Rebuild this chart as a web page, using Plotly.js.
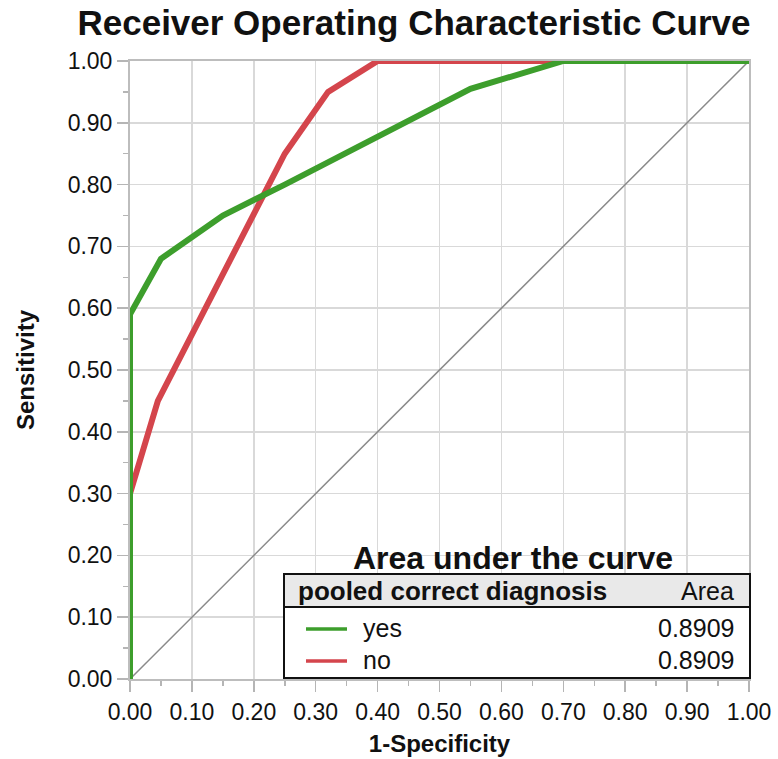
<!DOCTYPE html>
<html>
<head>
<meta charset="utf-8">
<script src="https://cdn.plot.ly/plotly-3.0.1.min.js"></script>
<style>
  html, body { margin: 0; padding: 0; background: #ffffff; }
  #chart { width: 778px; height: 759px; }
</style>
</head>
<body>
<div id="chart"></div>
<script>
// ---- data ----
const yesFPR = [0.00, 0.00, 0.05, 0.15, 0.25, 0.55, 0.70, 1.00];
const yesTPR = [0.00, 0.59, 0.68, 0.75, 0.80, 0.955, 1.00, 1.00];
const noFPR  = [0.00, 0.00, 0.045, 0.25, 0.32, 0.40, 1.00];
const noTPR  = [0.00, 0.30, 0.45, 0.85, 0.95, 1.00, 1.00];
const refFPR = [0.00, 1.00];
const refTPR = [0.00, 1.00];

const tickVals = [0.0, 0.1, 0.2, 0.3, 0.4, 0.5, 0.6, 0.7, 0.8, 0.9, 1.0];
const tickText = ['0.00','0.10','0.20','0.30','0.40','0.50','0.60','0.70','0.80','0.90','1.00'];

const groupLabels = ['yes', 'no'];
const groupAUC = ['0.8909', '0.8909'];
const groupColors = ['#3d9e2c', '#d4454c'];

// ---- layout helpers (pixel -> paper) ----
const W = 778, H = 759;
const L = 130, R = 749, T = 61, B = 679;
const px = x => (x - L) / (R - L);
const py = y => (B - y) / (B - T);

const FONT = 'Liberation Sans, Arial, Helvetica, sans-serif';

const traces = [
  { x: refFPR, y: refTPR, mode: 'lines', line: { color: '#8a8a8a', width: 1.5 }, hoverinfo: 'skip', showlegend: false },
  { x: noFPR, y: noTPR, mode: 'lines', name: groupLabels[1], line: { color: groupColors[1], width: 6 }, showlegend: false },
  { x: yesFPR, y: yesTPR, mode: 'lines', name: groupLabels[0], line: { color: groupColors[0], width: 6 }, showlegend: false }
];

const axisCommon = {
  range: [0, 1],
  tickvals: tickVals,
  ticktext: tickText,
  showgrid: true,
  gridcolor: '#d9d9d9',
  gridwidth: 1.5,
  zeroline: false,
  showline: true,
  mirror: true,
  linecolor: '#bdbdbd',
  linewidth: 2,
  ticks: 'outside',
  ticklen: 11,
  tickwidth: 1.5,
  tickcolor: '#b5b5b5',
  tickfont: { family: FONT, size: 23, color: '#111' },
  minor: { dtick: 0.05, ticks: 'outside', ticklen: 5, tickwidth: 1.5, tickcolor: '#b5b5b5', showgrid: false },
  fixedrange: true
};

const rowY = [628, 660];
const shapes = [
  // table box
  { type: 'rect', xref: 'paper', yref: 'paper', x0: px(284), x1: px(750), y0: py(678), y1: py(574),
    line: { color: '#111', width: 2 }, fillcolor: '#ffffff', layer: 'above' },
  // header fill
  { type: 'rect', xref: 'paper', yref: 'paper', x0: px(285), x1: px(749), y0: py(607), y1: py(575),
    line: { width: 0 }, fillcolor: '#e9e9e9', layer: 'above' },
  // header separator
  { type: 'line', xref: 'paper', yref: 'paper', x0: px(284), x1: px(750), y0: py(607), y1: py(607),
    line: { color: '#111', width: 2 }, layer: 'above' }
];
groupLabels.forEach((g, i) => {
  shapes.push({ type: 'line', xref: 'paper', yref: 'paper', x0: px(306), x1: px(347), y0: py(rowY[i] + 1), y1: py(rowY[i] + 1),
    line: { color: groupColors[i], width: 3.5 }, layer: 'above' });
});

const annotations = [
  { text: '<b>Area under the curve</b>', xref: 'paper', yref: 'paper', x: px(513), y: py(558),
    xanchor: 'center', yanchor: 'middle', showarrow: false, font: { family: FONT, size: 32, color: '#111' } },
  { text: '<b>pooled correct diagnosis</b>', xref: 'paper', yref: 'paper', x: px(296), y: py(591),
    xanchor: 'left', yanchor: 'middle', showarrow: false, font: { family: FONT, size: 26, color: '#111' } },
  { text: 'Area', xref: 'paper', yref: 'paper', x: px(736), y: py(591),
    xanchor: 'right', yanchor: 'middle', showarrow: false, font: { family: FONT, size: 25, color: '#111' } }
];
groupLabels.forEach((g, i) => {
  annotations.push({ text: g, xref: 'paper', yref: 'paper', x: px(361), y: py(rowY[i]),
    xanchor: 'left', yanchor: 'middle', showarrow: false, font: { family: FONT, size: 25, color: '#111' } });
  annotations.push({ text: groupAUC[i], xref: 'paper', yref: 'paper', x: px(736), y: py(rowY[i]),
    xanchor: 'right', yanchor: 'middle', showarrow: false, font: { family: FONT, size: 25, color: '#111' } });
});

const layout = {
  width: W, height: H,
  margin: { l: L, r: W - R, t: T, b: H - B, pad: 0 },
  paper_bgcolor: '#ffffff',
  plot_bgcolor: '#ffffff',
  title: { text: '<b>Receiver Operating Characteristic Curve</b>', x: 414 / W, xref: 'container', xanchor: 'center',
    y: 1 - 23 / H, yref: 'container', yanchor: 'middle', font: { family: FONT, size: 35, color: '#111' } },
  xaxis: Object.assign({}, axisCommon, {
    title: { text: '<b>1-Specificity</b>', font: { family: FONT, size: 24, color: '#111' }, standoff: 12 }
  }),
  yaxis: Object.assign({}, axisCommon, {
    title: { text: '<b>Sensitivity</b>', font: { family: FONT, size: 24, color: '#111' }, standoff: 26 }
  }),
  shapes: shapes,
  annotations: annotations,
  showlegend: false
};

Plotly.newPlot('chart', traces, layout, { displayModeBar: false, staticPlot: true });
</script>
</body>
</html>
